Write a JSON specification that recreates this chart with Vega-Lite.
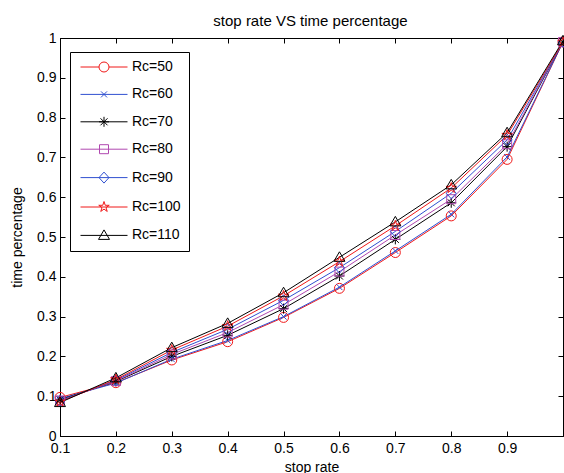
{
  "$schema": "https://vega.github.io/schema/vega-lite/v6.json",
  "width": 503,
  "height": 398,
  "autosize": {"type": "none"},
  "padding": {"left": 60, "top": 38, "right": 1, "bottom": 37},
  "background": "white",
  "title": {"text": "stop rate VS time percentage", "fontSize": 15, "fontWeight": "normal", "font": "Liberation Sans", "color": "black", "offset": 2, "dx": -1},
  "data": {"values": [
    {"x":0.1,"y":0.097,"Rc":"Rc=50"},{"x":0.2,"y":0.134,"Rc":"Rc=50"},{"x":0.3,"y":0.191,"Rc":"Rc=50"},{"x":0.4,"y":0.237,"Rc":"Rc=50"},{"x":0.5,"y":0.298,"Rc":"Rc=50"},{"x":0.6,"y":0.371,"Rc":"Rc=50"},{"x":0.7,"y":0.461,"Rc":"Rc=50"},{"x":0.8,"y":0.553,"Rc":"Rc=50"},{"x":0.9,"y":0.695,"Rc":"Rc=50"},{"x":1.0,"y":0.99,"Rc":"Rc=50"},
    {"x":0.1,"y":0.094,"Rc":"Rc=60"},{"x":0.2,"y":0.133,"Rc":"Rc=60"},{"x":0.3,"y":0.193,"Rc":"Rc=60"},{"x":0.4,"y":0.240,"Rc":"Rc=60"},{"x":0.5,"y":0.300,"Rc":"Rc=60"},{"x":0.6,"y":0.374,"Rc":"Rc=60"},{"x":0.7,"y":0.465,"Rc":"Rc=60"},{"x":0.8,"y":0.557,"Rc":"Rc=60"},{"x":0.9,"y":0.701,"Rc":"Rc=60"},{"x":1.0,"y":0.99,"Rc":"Rc=60"},
    {"x":0.1,"y":0.091,"Rc":"Rc=70"},{"x":0.2,"y":0.137,"Rc":"Rc=70"},{"x":0.3,"y":0.200,"Rc":"Rc=70"},{"x":0.4,"y":0.253,"Rc":"Rc=70"},{"x":0.5,"y":0.320,"Rc":"Rc=70"},{"x":0.6,"y":0.402,"Rc":"Rc=70"},{"x":0.7,"y":0.494,"Rc":"Rc=70"},{"x":0.8,"y":0.586,"Rc":"Rc=70"},{"x":0.9,"y":0.727,"Rc":"Rc=70"},{"x":1.0,"y":0.99,"Rc":"Rc=70"},
    {"x":0.1,"y":0.089,"Rc":"Rc=80"},{"x":0.2,"y":0.138,"Rc":"Rc=80"},{"x":0.3,"y":0.205,"Rc":"Rc=80"},{"x":0.4,"y":0.260,"Rc":"Rc=80"},{"x":0.5,"y":0.330,"Rc":"Rc=80"},{"x":0.6,"y":0.413,"Rc":"Rc=80"},{"x":0.7,"y":0.505,"Rc":"Rc=80"},{"x":0.8,"y":0.595,"Rc":"Rc=80"},{"x":0.9,"y":0.733,"Rc":"Rc=80"},{"x":1.0,"y":0.99,"Rc":"Rc=80"},
    {"x":0.1,"y":0.088,"Rc":"Rc=90"},{"x":0.2,"y":0.140,"Rc":"Rc=90"},{"x":0.3,"y":0.210,"Rc":"Rc=90"},{"x":0.4,"y":0.268,"Rc":"Rc=90"},{"x":0.5,"y":0.341,"Rc":"Rc=90"},{"x":0.6,"y":0.423,"Rc":"Rc=90"},{"x":0.7,"y":0.514,"Rc":"Rc=90"},{"x":0.8,"y":0.610,"Rc":"Rc=90"},{"x":0.9,"y":0.744,"Rc":"Rc=90"},{"x":1.0,"y":0.99,"Rc":"Rc=90"},
    {"x":0.1,"y":0.086,"Rc":"Rc=100"},{"x":0.2,"y":0.142,"Rc":"Rc=100"},{"x":0.3,"y":0.216,"Rc":"Rc=100"},{"x":0.4,"y":0.276,"Rc":"Rc=100"},{"x":0.5,"y":0.352,"Rc":"Rc=100"},{"x":0.6,"y":0.438,"Rc":"Rc=100"},{"x":0.7,"y":0.528,"Rc":"Rc=100"},{"x":0.8,"y":0.623,"Rc":"Rc=100"},{"x":0.9,"y":0.756,"Rc":"Rc=100"},{"x":1.0,"y":0.99,"Rc":"Rc=100"},
    {"x":0.1,"y":0.084,"Rc":"Rc=110"},{"x":0.2,"y":0.146,"Rc":"Rc=110"},{"x":0.3,"y":0.222,"Rc":"Rc=110"},{"x":0.4,"y":0.283,"Rc":"Rc=110"},{"x":0.5,"y":0.360,"Rc":"Rc=110"},{"x":0.6,"y":0.449,"Rc":"Rc=110"},{"x":0.7,"y":0.538,"Rc":"Rc=110"},{"x":0.8,"y":0.631,"Rc":"Rc=110"},{"x":0.9,"y":0.762,"Rc":"Rc=110"},{"x":1.0,"y":0.993,"Rc":"Rc=110"}
  ]},
  "layer": [
    {
      "mark": {"type": "line", "strokeWidth": 1},
      "encoding": {
        "x": {"field": "x", "type": "quantitative", "scale": {"domain": [0.1, 1.0], "nice": false, "zero": false},
              "axis": {"orient": "bottom", "values": [0.1,0.2,0.3,0.4,0.5,0.6,0.7,0.8,0.9], "title": "stop rate", "tickSize": -5, "labelPadding": 10, "labelFlush": false, "titlePadding": 5, "format": "~g"}},
        "y": {"field": "y", "type": "quantitative", "scale": {"domain": [0, 1], "nice": false},
              "axis": {"orient": "left", "values": [0,0.1,0.2,0.3,0.4,0.5,0.6,0.7,0.8,0.9,1], "title": "time percentage", "tickSize": -5, "labelPadding": 9, "labelFlush": false, "titlePadding": 12, "format": "~g"}},
        "color": {"field": "Rc", "type": "nominal", "legend": null,
                  "scale": {"domain": ["Rc=50","Rc=60","Rc=70","Rc=80","Rc=90","Rc=100","Rc=110"], "range": ["#f01818","#3050d0","#000000","#b048b0","#3050d0","#f01818","#000000"]}}
      }
    },
    {
      "mark": {"type": "point", "filled": false, "size": 100, "strokeWidth": 1, "opacity": 1},
      "encoding": {
        "x": {"field": "x", "type": "quantitative", "axis": null},
        "y": {"field": "y", "type": "quantitative", "axis": null},
        "color": {"field": "Rc", "type": "nominal", "legend": null,
                  "scale": {"domain": ["Rc=50","Rc=60","Rc=70","Rc=80","Rc=90","Rc=100","Rc=110"], "range": ["#f01818","#3050d0","#000000","#b048b0","#3050d0","#f01818","#000000"]}},
        "shape": {"field": "Rc", "type": "nominal", "legend": null,
                  "scale": {"domain": ["Rc=50","Rc=60","Rc=70","Rc=80","Rc=90","Rc=100","Rc=110"],
                            "range": [
                              "M1,0A1,1,0,1,1,-1,0A1,1,0,1,1,1,0Z",
                              "M-0.6,-0.6L0.6,0.6M-0.6,0.6L0.6,-0.6",
                              "M0,-1L0,1M-1,0L1,0M-0.7,-0.7L0.7,0.7M-0.7,0.7L0.7,-0.7",
                              "M-0.9,-0.9H0.9V0.9H-0.9Z",
                              "M0,-1.1L1,0L0,1.1L-1,0Z",
                              "M0,-1.1L0.247,-0.34L1.046,-0.34L0.399,0.13L0.647,0.89L0,0.42L-0.647,0.89L-0.399,0.13L-1.046,-0.34L-0.247,-0.34Z",
                              "M0,-1.1L1.1,0.8L-1.1,0.8Z"
                            ]}}
      }
    },
    {
      "transform": [{"filter": "false"}],
      "mark": {"type": "point", "filled": false, "size": 100, "strokeWidth": 1, "opacity": 1},
      "encoding": {
        "x": {"field": "x", "type": "quantitative", "axis": null},
        "y": {"field": "y", "type": "quantitative", "axis": null},
        "shape": {"field": "Rc", "type": "nominal",
                  "scale": {"domain": ["Rc=50","Rc=60","Rc=70","Rc=80","Rc=90","Rc=100","Rc=110"],
                            "range": [
                              "M-4.7,0H-1M1,0H4.7M1,0A1,1,0,1,1,-1,0A1,1,0,1,1,1,0Z",
                              "M-4.7,0H4.7M-0.6,-0.6L0.6,0.6M-0.6,0.6L0.6,-0.6",
                              "M-4.7,0H4.7M0,-1L0,1M-1,0L1,0M-0.7,-0.7L0.7,0.7M-0.7,0.7L0.7,-0.7",
                              "M-4.7,0H4.7M-0.9,-0.9H0.9V0.9H-0.9Z",
                              "M-4.7,0H4.7M0,-1.1L1,0L0,1.1L-1,0Z",
                              "M-4.7,0H4.7M0,-1.1L0.247,-0.34L1.046,-0.34L0.399,0.13L0.647,0.89L0,0.42L-0.647,0.89L-0.399,0.13L-1.046,-0.34L-0.247,-0.34Z",
                              "M-4.7,0H4.7M0,-1.1L1.1,0.8L-1.1,0.8Z"
                            ]},
                  "legend": {"title": null, "orient": "none", "legendX": 10, "legendY": 14, "strokeColor": "black", "fillColor": "white", "padding": 8,
                             "symbolSize": 100, "symbolStrokeWidth": 1, "symbolOpacity": 1, "symbolOffset": 19, "labelOffset": 21, "rowPadding": 13.4,
                             "labelFontSize": 14, "labelFont": "Liberation Sans", "labelColor": "black", "cornerRadius": 0}},
        "color": {"field": "Rc", "type": "nominal",
                   "scale": {"domain": ["Rc=50","Rc=60","Rc=70","Rc=80","Rc=90","Rc=100","Rc=110"], "range": ["#f01818","#3050d0","#000000","#b048b0","#3050d0","#f01818","#000000"]},
                   "legend": {"title": null, "orient": "none", "legendX": 10, "legendY": 14, "strokeColor": "black", "fillColor": "white", "padding": 8,
                             "symbolSize": 100, "symbolStrokeWidth": 1, "symbolOpacity": 1, "symbolOffset": 19, "labelOffset": 21, "rowPadding": 13.4,
                             "labelFontSize": 14, "labelFont": "Liberation Sans", "labelColor": "black", "cornerRadius": 0}}
      }
    },
    {
      "mark": {"type": "point", "opacity": 0},
      "encoding": {
        "x": {"field": "x", "type": "quantitative", "axis": {"orient": "top", "values": [0.1,0.2,0.3,0.4,0.5,0.6,0.7,0.8,0.9], "labels": false, "title": null, "tickSize": -5, "domain": false}},
        "y": {"field": "y", "type": "quantitative", "axis": {"orient": "right", "values": [0,0.1,0.2,0.3,0.4,0.5,0.6,0.7,0.8,0.9,1], "labels": false, "title": null, "tickSize": -5, "domain": false}}
      }
    }
  ],
  "resolve": {"scale": {"shape": "independent", "color": "independent"}, "axis": {"x": "independent", "y": "independent"}},
  "config": {
    "view": {"stroke": "black", "strokeWidth": 1},
    "axis": {"grid": false, "domainColor": "black", "tickColor": "black", "labelColor": "black", "titleColor": "black",
             "labelFont": "Liberation Sans", "titleFont": "Liberation Sans", "labelFontSize": 14, "titleFontSize": 14, "titleFontWeight": "normal", "domainWidth": 1, "tickWidth": 1}
  }
}
